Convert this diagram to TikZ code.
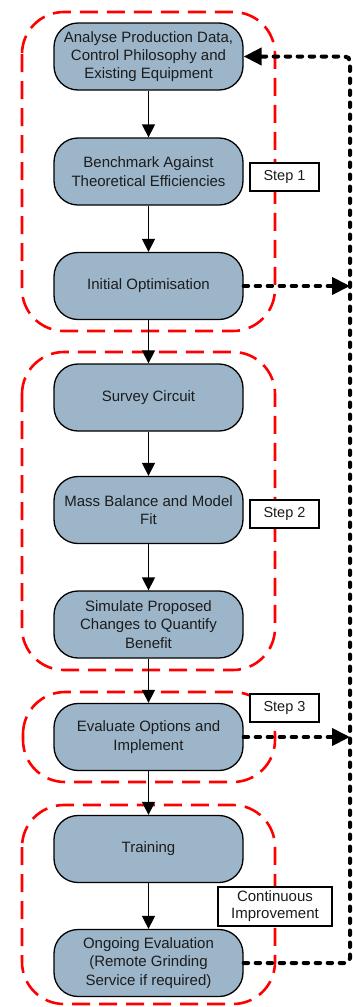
\documentclass[tikz,border=0pt]{standalone}
\usepackage{fontspec}
\setmainfont{Liberation Sans}
\usetikzlibrary{arrows.meta}
\definecolor{boxblue}{RGB}{156,181,201}
\definecolor{txt}{RGB}{28,28,28}
\definecolor{grpred}{RGB}{255,0,0}

\begin{document}
\begin{tikzpicture}[x=1pt,y=-1pt,
  proc/.style={draw=black, line width=1.3pt, fill=boxblue, rounded corners=24pt,
    minimum width=189pt, minimum height=67pt, align=center, text=txt,
    font=\fontsize{15}{18.3}\selectfont, inner sep=0pt},
  grp/.style={draw=grpred, line width=2.6pt, dash pattern=on 18pt off 9pt, rounded corners=42pt},
  steplabel/.style={draw=black, line width=1.2pt, fill=white, text=txt, align=center,
    inner sep=0pt, font=\fontsize{14.5}{17}\selectfont},
  flow/.style={-{Triangle[length=13pt,width=13pt]}, line width=1.4pt},
  loop/.style={line width=4pt, dash pattern=on 4.5pt off 7.5pt, line cap=round, rounded corners=5pt},
  looptip/.style={-{Triangle[length=18pt,width=17pt]}}
]
\useasboundingbox (0,0) rectangle (353,1007);

% dashed red groupings
\draw[grp] (22,12) rectangle (275,331);
\draw[grp] (22,352) rectangle (275,670);
\draw[grp] (23,692) rectangle (275,782);
\draw[grp] (22,805) rectangle (275,1004);

% process boxes
\node[proc] (analyse) at (148.5,56.5) {Analyse Production Data,\\Control Philosophy and\\Existing Equipment};
\node[proc] (bench)   at (148.5,171.5) {Benchmark Against\\Theoretical Efficiencies};
\node[proc] (initopt) at (148.5,286) {Initial Optimisation};
\node[proc] (survey)  at (148.5,397.5) {Survey Circuit};
\node[proc] (mass)    at (148.5,510) {Mass Balance and Model\\Fit};
\node[proc] (sim)     at (148.5,624.5) {Simulate Proposed\\Changes to Quantify\\Benefit};
\node[proc] (evalopt) at (148.5,737) {Evaluate Options and\\Implement};
\node[proc] (train)   at (148.5,849) {Training};
\node[proc] (ongoing) at (148.5,963) {Ongoing Evaluation\\(Remote Grinding\\Service if required)};

% main flow
\draw[flow] (analyse) -- (bench);
\draw[flow] (bench) -- (initopt);
\draw[flow] (initopt) -- (survey);
\draw[flow] (survey) -- (mass);
\draw[flow] (mass) -- (sim);
\draw[flow] (sim) -- (evalopt);
\draw[flow] (evalopt) -- (train);
\draw[flow] (train) -- (ongoing);

% continuous improvement loop
\coordinate (looptop) at (350,56.5);
\draw[loop, looptip] (ongoing.east) -| (looptop) -- (analyse.east);
\draw[loop, looptip] (initopt.east) -- (initopt.east -| looptop);
\draw[loop, looptip] (evalopt.east) -- (evalopt.east -| looptop);

% step labels
\node[steplabel, minimum width=69pt, minimum height=28pt] (s1) at (284.5,177) {Step 1};
\node[steplabel, minimum width=69pt, minimum height=28pt] (s2) at (284.5,514) {Step 2};
\node[steplabel, minimum width=69pt, minimum height=28pt] (s3) at (284.5,708) {Step 3};
\node[steplabel, minimum width=114pt, minimum height=39pt, font=\fontsize{15}{17}\selectfont] (ci) at (275,906.5) {Continuous\\Improvement};
\end{tikzpicture}
\end{document}
